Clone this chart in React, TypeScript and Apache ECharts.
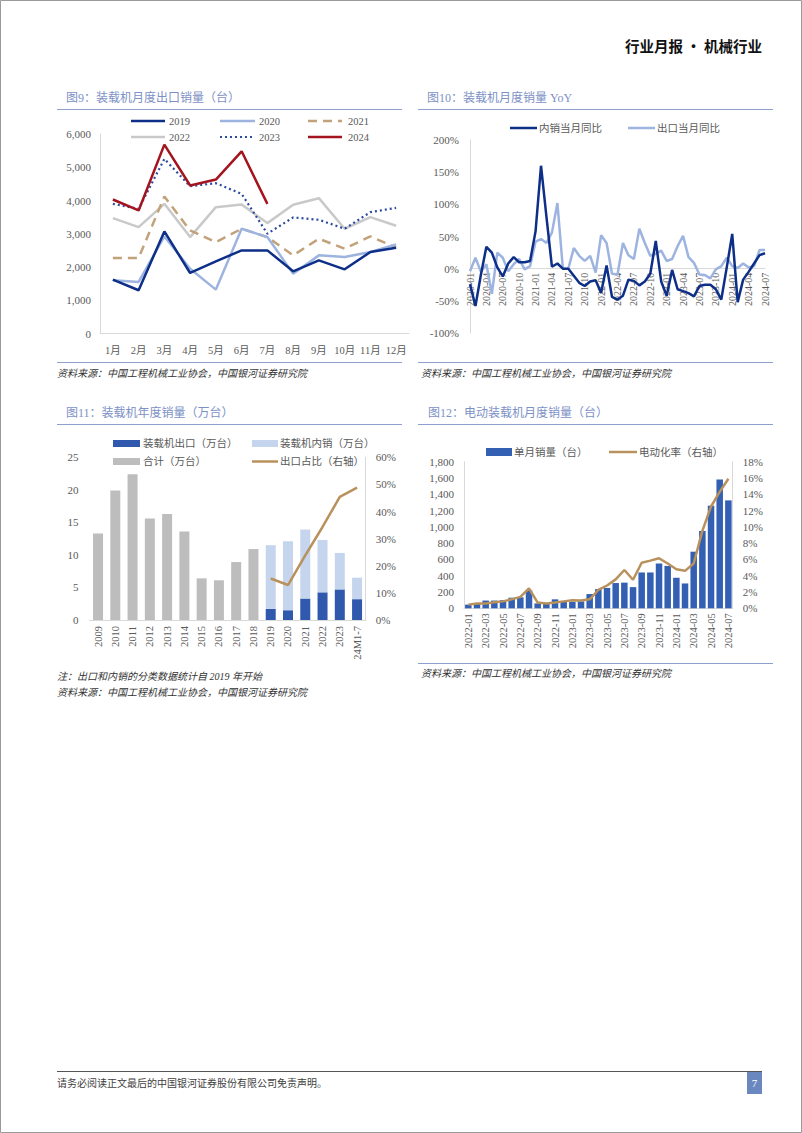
import React, { useEffect, useRef } from 'react';
import * as echarts from 'echarts';

// ---------- Figure 9: monthly export sales of loaders (units) ----------
const months9 = ['1月', '2月', '3月', '4月', '5月', '6月', '7月', '8月', '9月', '10月', '11月', '12月'];
const exp2019 = [1620, 1300, 3070, 1820, 2170, 2500, 2500, 1870, 2200, 1930, 2450, 2580];
const exp2020 = [1600, 1550, 2920, 1950, 1320, 3150, 2900, 1800, 2350, 2300, 2450, 2680];
const exp2021 = [2270, 2270, 4120, 3100, 2750, 3150, 2900, 2350, 2850, 2550, 2920, 2580];
const exp2022 = [3470, 3200, 3900, 2900, 3800, 3880, 3320, 3870, 4070, 3150, 3500, 3240];
const exp2023 = [3900, 3750, 5250, 4430, 4520, 4200, 3000, 3490, 3420, 3150, 3650, 3780];
const exp2024 = [4030, 3700, 5680, 4450, 4630, 5480, 3900];

// ---------- Figure 10: monthly YoY (%) 2020-01 .. 2024-07 ----------
const domesticYoY = [
  -24, -58, -9, 34, 25, 2, -12, 8, 18, 10, 10, 12,
  58, 160, 80, 3, 8, 0, 0, -11, -22, -27, -20, -18,
  -38, 5, -44, -48, -42, -17, -19, -26, -20, -8, 43, -20,
  -42, -2, -32, -35, -38, -43, -27, -25, -25, -32, -48, 2,
  54, -52, -17, -5, 8, 21, 24,
];
const exportYoY = [
  -4, 17, -5, 7, -39, 25, 17, -4, 7, 15, -1, 4,
  42, 46, 40, 56, 102, 0, 0, 32, 20, 12, 20, -6,
  52, 40, -8, -9, 40, 21, 15, 62, 40, 20, 23, 28,
  12, 15, 35, 51, 18, 9, -9, -10, -15, -1, 4, 17,
  4, 1, 8, 2, 4, 29, 29,
];

// ---------- Figure 11: annual sales (10k units) ----------
const years11 = ['2009', '2010', '2011', '2012', '2013', '2014', '2015', '2016', '2017', '2018', '2019', '2020', '2021', '2022', '2023', '24M1-7'];
const total11 = [13.3, 19.9, 22.4, 15.6, 16.3, 13.6, 6.4, 6.1, 8.9, 10.9, null, null, null, null, null, null];
const export11 = [null, null, null, null, null, null, null, null, null, null, 1.7, 1.5, 3.3, 4.25, 4.7, 3.2];
const domestic11 = [null, null, null, null, null, null, null, null, null, null, 9.8, 10.6, 10.6, 8.05, 5.6, 3.3];
const ratio11 = [null, null, null, null, null, null, null, null, null, null, 15.3, 12.9, 23.8, 34.3, 45.4, 48.8];

// ---------- Figure 12: electric loader monthly sales 2022-01 .. 2024-07 ----------
const evSales12 = [45, 55, 95, 95, 100, 130, 135, 220, 60, 55, 110, 85, 80, 85, 175, 235, 250, 310, 315, 260, 440, 440, 550, 520, 375, 305, 695, 950, 1260, 1580, 1325];
const evRate12 = [0.45, 0.6, 0.6, 0.75, 0.85, 1.1, 1.4, 2.45, 0.7, 0.6, 0.7, 0.85, 1.0, 0.95, 1.1, 2.25, 2.8, 3.55, 4.7, 3.5, 5.6, 5.85, 6.15, 5.5, 4.8, 4.6, 5.5, 9.5, 12.5, 14.3, 15.9];

function monthLabels(startYear: number, startMonth: number, count: number): string[] {
  const out: string[] = [];
  let y = startYear;
  let m = startMonth;
  for (let i = 0; i < count; i++) {
    out.push(`${y}-${m < 10 ? '0' + m : m}`);
    m++;
    if (m > 12) { m = 1; y++; }
  }
  return out;
}
const dates10 = monthLabels(2020, 1, domesticYoY.length);
const dates12 = monthLabels(2022, 1, evSales12.length);

const SERIF = "'Liberation Serif', 'Noto Sans CJK SC', serif";
const SANS = "'Noto Sans CJK SC', sans-serif";
const TXT = '#595959';
const AX = '#D9D9D9';
const TITLE = '#7D91C6';
const RULE = '#8FA0CC';

const C2019 = '#0D2F87';
const C2020 = '#9DB4E0';
const C2021 = '#C2A27A';
const C2022 = '#C9C9C9';
const C2023 = '#2A4A9E';
const C2024 = '#A3141F';
const TAN = '#B8915C';

const fmtComma = (v: number) => v.toLocaleString('en-US');

function tx(x: number, y: number, text: string, o: any = {}) {
  return {
    type: 'text',
    x,
    y,
    silent: true,
    style: {
      text,
      fill: o.fill || TXT,
      fontSize: o.size || 10.5,
      fontFamily: o.family || SERIF,
      fontWeight: o.weight || 'normal',
      fontStyle: o.italic ? 'italic' : 'normal',
      align: o.align || 'left',
      verticalAlign: 'middle',
    },
  };
}
function ln(x1: number, y1: number, x2: number, y2: number, stroke: string, lineWidth = 1, lineDash?: number[]) {
  return { type: 'line', silent: true, shape: { x1, y1, x2, y2 }, style: { stroke, lineWidth, lineDash } };
}
function rc(x: number, y: number, width: number, height: number, fill: string) {
  return { type: 'rect', silent: true, shape: { x, y, width, height }, style: { fill } };
}

const axisLabelBase = { color: TXT, fontFamily: SERIF, fontSize: 11 };

// Fig 10 grid geometry (zero line crosses inside the plot)
const G10_TOP = 140;
const G10_H = 193;
const G10_MIN = -100;
const G10_MAX = 200;
const zeroOffset10 = -(G10_H * (0 - G10_MIN)) / (G10_MAX - G10_MIN);

function buildOption(): any {
  const graphics: any[] = [
    // page frame
    { type: 'rect', silent: true, shape: { x: 0.5, y: 0.5, width: 801, height: 1132 }, style: { fill: 'none', stroke: '#9A9A9A', lineWidth: 1 } },
    // header
    tx(762, 45, '行业月报 · 机械行业', { family: SANS, size: 14.5, weight: 'bold', fill: '#111', align: 'right' }),

    // Fig 9 title
    tx(66, 98, '图9：装载机月度出口销量（台）', { fill: TITLE, size: 12 }),
    ln(57, 109.5, 402, 109.5, RULE, 1),
    ln(57, 362.5, 402, 362.5, RULE, 1),
    tx(57, 373, '资料来源：中国工程机械工业协会，中国银河证券研究院', { italic: true, size: 10, fill: '#333' }),
    // Fig 9 legend
    ln(131, 121, 165, 121, C2019, 2.5), tx(169, 121, '2019'),
    ln(220, 121, 255, 121, C2020, 2.5), tx(259, 121, '2020'),
    ln(308, 121, 342, 121, C2021, 2.5, [9, 6]), tx(348, 121, '2021'),
    ln(131, 137, 165, 137, C2022, 2.5), tx(169, 137, '2022'),
    ln(220, 137, 255, 137, C2023, 2.2, [2, 3]), tx(259, 137, '2023'),
    ln(308, 137, 342, 137, C2024, 2.5), tx(348, 137, '2024'),

    // Fig 10 title
    tx(427, 98, '图10：装载机月度销量 YoY', { fill: TITLE, size: 12 }),
    ln(418, 109.5, 773, 109.5, RULE, 1),
    ln(418, 362.5, 773, 362.5, RULE, 1),
    tx(421, 373, '资料来源：中国工程机械工业协会，中国银河证券研究院', { italic: true, size: 10, fill: '#333' }),
    ln(510, 128, 537, 128, C2019, 2.5), tx(539, 128, '内销当月同比'),
    ln(628, 128, 655, 128, C2020, 2.5), tx(657, 128, '出口当月同比'),

    // Fig 11 title
    tx(66, 413, '图11：装载机年度销量（万台）', { fill: TITLE, size: 12 }),
    ln(57, 424.5, 402, 424.5, RULE, 1),
    rc(113, 440, 27, 7, '#3059AE'), tx(143, 443.5, '装载机出口（万台）'),
    rc(252, 440, 26, 7, '#C6D5EE'), tx(280, 443.5, '装载机内销（万台）'),
    rc(113, 458, 27, 7, '#BDBDBD'), tx(143, 461.5, '合计（万台）'),
    ln(252, 461.5, 278, 461.5, TAN, 2.5), tx(280, 461.5, '出口占比（右轴）'),
    tx(57, 676, '注：出口和内销的分类数据统计自 2019 年开始', { italic: true, size: 10, fill: '#333' }),
    tx(57, 692, '资料来源：中国工程机械工业协会，中国银河证券研究院', { italic: true, size: 10, fill: '#333' }),

    // Fig 12 title
    tx(428, 413, '图12：电动装载机月度销量（台）', { fill: TITLE, size: 12 }),
    ln(418, 424.5, 773, 424.5, RULE, 1),
    rc(486, 448, 26, 8, '#3360B2'), tx(514, 452, '单月销量（台）'),
    ln(609, 452, 637, 452, TAN, 2.5), tx(639, 452, '电动化率（右轴）'),
    ln(418, 663.5, 773, 663.5, RULE, 1),
    tx(421, 673, '资料来源：中国工程机械工业协会，中国银河证券研究院', { italic: true, size: 10, fill: '#333' }),

    // footer
    ln(57, 1071.5, 762, 1071.5, '#555', 1),
    tx(57, 1083, '请务必阅读正文最后的中国银河证券股份有限公司免责声明。', { size: 10, fill: '#404040' }),
    rc(747, 1072, 15, 22, '#6A87BF'),
    tx(754.5, 1083, '7', { size: 11, fill: '#fff', align: 'center' }),
  ];

  const lineS = (name: string, data: any[], color: string, width: number, type: any, x: number, y: number, extra: any = {}) => ({
    name,
    type: 'line',
    xAxisIndex: x,
    yAxisIndex: y,
    data,
    symbol: 'none',
    showSymbol: false,
    connectNulls: false,
    lineStyle: { color, width, type },
    itemStyle: { color },
    z: 3,
    ...extra,
  });

  return {
    animation: false,
    backgroundColor: '#fff',
    grid: [
      { left: 100, top: 134, width: 309, height: 199.5 },
      { left: 470, top: G10_TOP, width: 295, height: G10_H },
      { left: 89.4, top: 457.3, width: 276.3, height: 162.7 },
      { left: 464, top: 461.7, width: 268.7, height: 146.6 },
    ],
    xAxis: [
      {
        type: 'category', gridIndex: 0, data: months9,
        axisTick: { show: false }, axisLine: { lineStyle: { color: AX } },
        axisLabel: { ...axisLabelBase, fontSize: 10.5, interval: 0, margin: 12 },
      },
      {
        type: 'category', gridIndex: 1, data: dates10, boundaryGap: false,
        offset: zeroOffset10,
        axisTick: { show: false }, axisLine: { onZero: false, lineStyle: { color: AX } },
        axisLabel: { ...axisLabelBase, fontSize: 10, rotate: 90, interval: 2, margin: 4 },
        z: 1,
      },
      {
        type: 'category', gridIndex: 2, data: years11,
        axisTick: { show: false }, axisLine: { lineStyle: { color: AX } },
        axisLabel: { ...axisLabelBase, fontSize: 10.5, rotate: 90, interval: 0, margin: 6 },
      },
      {
        type: 'category', gridIndex: 3, data: dates12,
        axisTick: { show: false }, axisLine: { lineStyle: { color: AX } },
        axisLabel: { ...axisLabelBase, fontSize: 10.5, rotate: 90, interval: 1, margin: 5 },
      },
    ],
    yAxis: [
      {
        type: 'value', gridIndex: 0, min: 0, max: 6000, interval: 1000,
        splitLine: { show: false }, axisTick: { show: false },
        axisLine: { show: true, lineStyle: { color: AX } },
        axisLabel: { ...axisLabelBase, margin: 9, formatter: fmtComma },
      },
      {
        type: 'value', gridIndex: 1, min: G10_MIN, max: G10_MAX, interval: 50,
        splitLine: { show: false }, axisTick: { show: false },
        axisLine: { show: true, lineStyle: { color: AX } },
        axisLabel: { ...axisLabelBase, margin: 11, formatter: '{value}%' },
      },
      {
        type: 'value', gridIndex: 2, min: 0, max: 25, interval: 5,
        splitLine: { show: false }, axisTick: { show: false },
        axisLine: { show: false },
        axisLabel: { ...axisLabelBase, margin: 11 },
      },
      {
        type: 'value', gridIndex: 2, position: 'right', min: 0, max: 60, interval: 10,
        splitLine: { show: false }, axisTick: { show: false },
        axisLine: { show: true, lineStyle: { color: AX } },
        axisLabel: { ...axisLabelBase, margin: 10, formatter: '{value}%' },
      },
      {
        type: 'value', gridIndex: 3, min: 0, max: 1800, interval: 200,
        splitLine: { show: false }, axisTick: { show: false },
        axisLine: { show: true, lineStyle: { color: AX } },
        axisLabel: { ...axisLabelBase, margin: 10, formatter: fmtComma },
      },
      {
        type: 'value', gridIndex: 3, position: 'right', min: 0, max: 18, interval: 2,
        splitLine: { show: false }, axisTick: { show: false },
        axisLine: { show: true, lineStyle: { color: AX } },
        axisLabel: { ...axisLabelBase, margin: 10, formatter: '{value}%' },
      },
    ],
    series: [
      // Fig 9
      lineS('2022', exp2022, C2022, 2.5, 'solid', 0, 0),
      lineS('2021', exp2021, C2021, 2.5, [9, 6], 0, 0),
      lineS('2020', exp2020, C2020, 2.5, 'solid', 0, 0),
      lineS('2019', exp2019, C2019, 2.5, 'solid', 0, 0),
      lineS('2023', exp2023, C2023, 2.2, [2, 3], 0, 0),
      lineS('2024', exp2024, C2024, 2.5, 'solid', 0, 0),
      // Fig 10
      lineS('出口当月同比', exportYoY, C2020, 2.5, 'solid', 1, 1),
      lineS('内销当月同比', domesticYoY, C2019, 2.5, 'solid', 1, 1),
      // Fig 11
      { name: '合计（万台）', type: 'bar', xAxisIndex: 2, yAxisIndex: 2, stack: 'y', data: total11, barWidth: 10, itemStyle: { color: '#BDBDBD' } },
      { name: '装载机出口（万台）', type: 'bar', xAxisIndex: 2, yAxisIndex: 2, stack: 'y', data: export11, barWidth: 10, itemStyle: { color: '#3059AE' } },
      { name: '装载机内销（万台）', type: 'bar', xAxisIndex: 2, yAxisIndex: 2, stack: 'y', data: domestic11, barWidth: 10, itemStyle: { color: '#C6D5EE' } },
      lineS('出口占比（右轴）', ratio11, TAN, 2.5, 'solid', 2, 3),
      // Fig 12
      { name: '单月销量（台）', type: 'bar', xAxisIndex: 3, yAxisIndex: 4, data: evSales12, barWidth: 6.5, itemStyle: { color: '#3360B2' } },
      lineS('电动化率（右轴）', evRate12, TAN, 2.5, 'solid', 3, 5),
    ],
    graphic: { elements: graphics },
  };
}

export default function App() {
  const ref = useRef<HTMLDivElement>(null);
  useEffect(() => {
    if (!ref.current) return;
    const chart = echarts.init(ref.current, undefined, { renderer: 'svg', width: 802, height: 1133 });
    chart.setOption(buildOption());
    return () => chart.dispose();
  }, []);
  return (
    <div
      ref={ref}
      style={{ position: 'absolute', left: 0, top: 0, width: 802, height: 1133, background: '#fff' }}
    />
  );
}
